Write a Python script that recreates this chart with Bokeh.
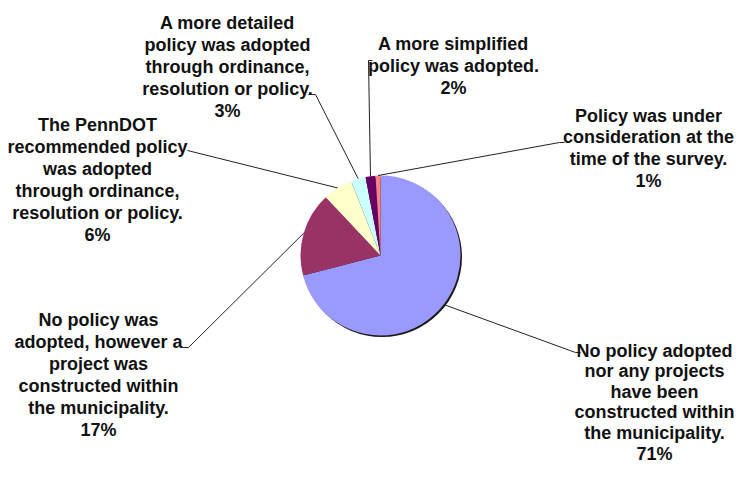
import math
from bokeh.plotting import figure
from bokeh.models import Range1d
from bokeh.core.properties import value
from bokeh.embed import file_html
from bokeh.resources import INLINE

# ---- data (clockwise from 12 o'clock) ----
categories = [
    "No policy adopted nor any projects have been constructed within the municipality.",
    "No policy was adopted, however a project was constructed within the municipality.",
    "The PennDOT recommended policy was adopted through ordinance, resolution or policy.",
    "A more detailed policy was adopted through ordinance, resolution or policy.",
    "A more simplified policy was adopted.",
    "Policy was under consideration at the time of the survey.",
]
percents = [71, 17, 6, 3, 2, 1]
colors = ["#9999FF", "#993366", "#FFFFCC", "#CCFFFF", "#660066", "#FF8080"]
label_lines = [
    ["No policy adopted", "nor any projects", "have been", "constructed within", "the municipality.", "71%"],
    ["No policy was", "adopted, however a", "project was", "constructed within", "the municipality.", "17%"],
    ["The PennDOT", "recommended policy", "was adopted", "through ordinance,", "resolution or policy.", "6%"],
    ["A more detailed", "policy was adopted", "through ordinance,", "resolution or policy.", "3%"],
    ["A more simplified", "policy was adopted.", "2%"],
    ["Policy was under", "consideration at the", "time of the survey.", "1%"],
]

# ---- layout (picture pixel coordinates, y down) ----
FW, FH = 736, 467
H = 483
CX, CY, R = 380, 255, 80
label_x = [654, 98, 97, 227, 453, 648]
label_y0 = [350, 319, 124, 22, 43, 115]
line_step = [20.6, 22, 22, 22, 22, 21.7]
leader_end = [
    [(575, 352), (580, 352)],
    [(188, 347), (182, 347)],
    [(187, 150)],
    [(315, 94), (308, 94)],
    [(368, 60), (372, 60)],
    [(559, 142), (564, 142)],
]

def Y(py):
    return H - py

p = figure(width=FW, height=FH, output_backend="svg", toolbar_location=None,
           x_range=Range1d(0, FW), y_range=Range1d(H - FH, H),
           min_border=0)
p.axis.visible = False
p.grid.visible = False
p.outline_line_color = None
p.background_fill_color = "white"
p.border_fill_color = "white"

# shadow
p.circle(x=[CX + 1.5], y=[Y(CY) - 1.5], radius=R, fill_color="#1a1a1a", line_color=None)

total = float(sum(percents))
cum = 0.0
mids = []
for v, c in zip(percents, colors):
    a0 = math.pi / 2 - 2 * math.pi * cum / total
    cum += v
    a1 = math.pi / 2 - 2 * math.pi * cum / total
    p.wedge(x=[CX], y=[Y(CY)], radius=R, start_angle=a1, end_angle=a0,
            fill_color=c, line_color=None)
    mids.append((a0 + a1) / 2)

# leaders
for m, ends in zip(mids, leader_end):
    xs = [CX + R * math.cos(m)]
    ys = [Y(CY) + R * math.sin(m)]
    for (ex, ey) in ends:
        xs.append(ex)
        ys.append(Y(ey))
    p.line(xs, ys, line_color="#222222", line_width=1)

# labels
for lines, lx, ly, st in zip(label_lines, label_x, label_y0, line_step):
    xs = [lx] * len(lines)
    ys = [Y(ly + i * st) for i in range(len(lines))]
    p.text(x=xs, y=ys, text=lines, text_align="center", text_baseline="middle",
           text_font=value("Liberation Sans"), text_font_style="bold",
           text_font_size="18px", text_color="#111111")

open("out.html", "w").write(file_html(p, INLINE))
